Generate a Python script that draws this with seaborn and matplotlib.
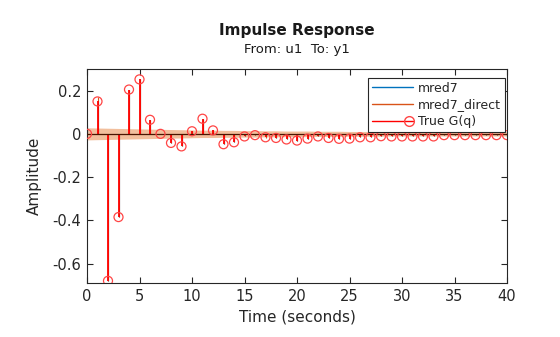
import numpy as np
import pandas as pd
import matplotlib
matplotlib.use("Agg")
import matplotlib.pyplot as plt
import seaborn as sns
from matplotlib.lines import Line2D
from matplotlib.legend_handler import HandlerLine2DCompound

time = list(range(0, 41))
true_g = [0.0, 0.15, -0.68, -0.385, 0.205, 0.252, 0.065, 0.0, -0.042, -0.058,
          0.012, 0.07, 0.016, -0.048, -0.039, -0.012, -0.006, -0.016, -0.019, -0.026,
          -0.031, -0.022, -0.012, -0.019, -0.023, -0.022, -0.016, -0.016, -0.011, -0.012,
          -0.012, -0.012, -0.012, -0.012, -0.006, -0.006, -0.006, -0.006, -0.006, -0.006,
          -0.006]
mred7 = [0.04, 0.15, -0.68, -0.385, 0.205, 0.252, 0.065, 0.0, -0.042, -0.058,
         0.012, 0.07, 0.016, -0.048, -0.039, -0.012, -0.006, -0.016, -0.019, -0.026,
         -0.031, -0.022, -0.012, -0.019, -0.023, -0.022, -0.016, -0.016, -0.011, -0.012,
         -0.012, -0.012, -0.012, -0.012, -0.006, -0.006, -0.006, -0.006, -0.006, -0.006,
         -0.006]
mred7_direct = [0.0, 0.17, -0.68, -0.385, 0.205, 0.252, 0.065, 0.0, -0.042, -0.058,
                0.012, 0.07, 0.016, -0.048, -0.039, -0.012, -0.006, -0.02, -0.019, -0.026,
                -0.031, -0.022, -0.012, -0.019, -0.023, -0.022, -0.016, -0.016, -0.011, -0.012,
                -0.012, -0.012, -0.012, -0.012, -0.006, -0.006, -0.006, -0.006, -0.006, -0.006,
                -0.006]
band_half = [0.028, 0.027, 0.026, 0.025, 0.024, 0.023, 0.022, 0.021, 0.02, 0.019,
             0.018, 0.017, 0.017, 0.016, 0.016, 0.015, 0.015, 0.014, 0.014, 0.013,
             0.013, 0.013, 0.012, 0.012, 0.012, 0.011, 0.011, 0.011, 0.011, 0.01,
             0.01, 0.01, 0.01, 0.01, 0.01, 0.01, 0.01, 0.01, 0.01, 0.01, 0.01]
x_ticks = [0, 5, 10, 15, 20, 25, 30, 35, 40]
y_ticks = [-0.6, -0.4, -0.2, 0, 0.2]
y_tick_labels = ["-0.6", "-0.4", "-0.2", "0", "0.2"]

sns.set_theme(style="white")
plt.rcParams['font.family'] = ['DejaVu Sans']

fig = plt.figure(figsize=(5.6, 3.37), dpi=100)
ax = fig.add_axes([87/560, 1-283/337, (507-87)/560, (283-69)/337])

df = pd.DataFrame({"t": time, "g": true_g, "m": mred7, "d": mred7_direct, "b": band_half})

# confidence band
ax.fill_between(df["t"], -df["b"], df["b"], color="#f0b48c", alpha=0.85, lw=0, zorder=1)

blue = "#0072BD"
orange = "#D95319"
red = "#FF0000"

ax.vlines(df["t"], 0, df["m"], color=blue, lw=0.8, zorder=2)
ax.vlines(df["t"], 0, df["d"], color=orange, lw=0.8, zorder=2)
ax.vlines(df["t"], 0, df["g"], color=red, lw=1.3, zorder=3)
ax.axhline(0, color="#4a1500", lw=0.9, zorder=3)
sns.scatterplot(data=df, x="t", y="g", ax=ax, marker="o", s=42, facecolor="none",
                edgecolor="#ff4545", linewidth=0.9, zorder=4, legend=False)

ax.set_xlim(0, 40)
ax.set_ylim(-0.69, 0.30)
ax.set_xticks(x_ticks)
ax.set_xticklabels([str(v) for v in x_ticks])
ax.set_yticks(y_ticks)
ax.set_yticklabels(y_tick_labels)
ax.tick_params(direction="in", length=4, width=0.8, colors="#262626", labelsize=10.5,
               top=True, right=True, bottom=True, left=True, pad=4)
for s in ax.spines.values():
    s.set_visible(True)
    s.set_color("#262626")
    s.set_linewidth(0.8)
ax.set_xlabel("Time (seconds)", fontsize=11, color="#262626", labelpad=4)
ax.set_ylabel("Amplitude", fontsize=11, color="#262626", labelpad=8)
ax.grid(False)

fig.text((87+507)/2/560, 1-31/337, "Impulse Response", ha="center", va="center",
         fontsize=11, fontweight="bold", color="#1a1a1a")
fig.text((87+507)/2/560, 1-50/337, "From: u1  To: y1", ha="center", va="center",
         fontsize=9.5, color="#1a1a1a")


class EndMarkerHandler(HandlerLine2DCompound):
    def get_xdata(self, legend, xdescent, ydescent, width, height, fontsize):
        xdata = np.array([-xdescent, -xdescent + width])
        return xdata, np.array([-xdescent + width - 3])


handles = [Line2D([], [], color=blue, lw=1),
           Line2D([], [], color=orange, lw=1),
           Line2D([], [], color=red, lw=1, marker="o", markerfacecolor="none",
                  markeredgecolor="#ff4545", markersize=7)]
leg = ax.legend(handles, ["mred7", "mred7_direct", "True G(q)"], loc="upper right",
                bbox_to_anchor=(1 - 2/420, 1 - 9/214), fontsize=9, frameon=True,
                fancybox=False, edgecolor="#262626", framealpha=1, handlelength=3.3,
                borderpad=0.3, labelspacing=0.3, handletextpad=0.4,
                borderaxespad=0, handler_map={handles[2]: EndMarkerHandler()})
leg.get_frame().set_linewidth(0.8)

fig.savefig("out.png", dpi=100)
